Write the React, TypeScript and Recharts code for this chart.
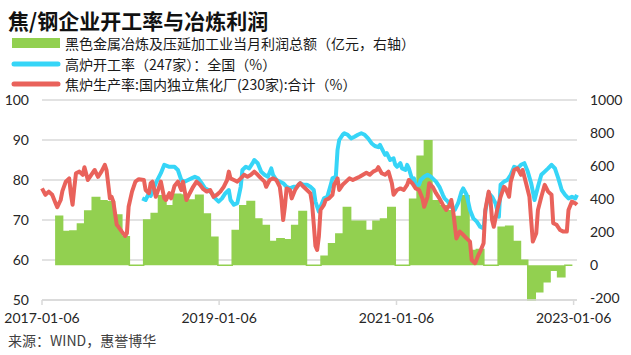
import { ComposedChart, Line, Area, XAxis, YAxis, CartesianGrid } from "recharts";

const DAY = 86400000;
const START = Date.parse("2017-01-06");
const LAST_WEEK = 315;

const xTickLabels = ["2017-01-06", "2019-01-06", "2021-01-06", "2023-01-06"];
const leftTicks = [50, 60, 70, 80, 90, 100];
const rightTicks = [-200, 0, 200, 400, 600, 800, 1000];

// 焦炉生产率:国内独立焦化厂(230家):合计（%）, [weeks since 2017-01-06, value]
const cokeRate: [number, number][] = [
  [0, 77.9], [2, 76.3], [4, 77.1], [6, 76.3], [8, 74.2], [9, 73.2], [11, 75], [12, 77.2], [14, 79.6],
  [16, 80.4], [17, 76.5], [18, 73.8], [19, 78], [20, 81.7], [22, 82.1], [24, 81.3], [25, 83.2], [27, 80],
  [29, 81.3], [31, 82.5], [33, 80.8], [35, 82.1], [37, 83.8], [38, 82.5], [40, 75.4], [41, 75.8], [42, 74.6],
  [44, 68.8], [45, 68.3], [47, 67.1], [49, 66], [50, 66.7], [51, 73.3], [53, 77.1], [55, 79.6], [57, 80.2],
  [60, 80], [61, 77.5], [63, 76.7], [64, 79.2], [65, 79.6], [67, 75.8], [69, 78.3], [70, 79.6], [72, 75.4],
  [73, 75], [75, 76.7], [76, 75.4], [78, 78.5], [80, 79.6], [82, 77.5], [83, 79.6], [85, 75], [87, 76.7],
  [89, 78.3], [91, 79.6], [93, 78.8], [95, 77.7], [97, 77.1], [99, 77.5], [101, 75.8], [103, 76.3], [105, 77.1],
  [107, 78.3], [109, 80], [110, 82.1], [111, 80.4], [113, 80], [115, 79.6], [117, 80.4], [119, 81.3], [121, 80.8],
  [123, 81.3], [125, 82.1], [127, 81.3], [129, 80.4], [131, 79.6], [132, 78.3], [134, 80], [136, 80.4], [138, 80],
  [140, 78.3], [141, 75], [142, 70], [143, 73.3], [144, 77.9], [146, 77.5], [147, 75.4], [149, 77.5], [151, 78.8],
  [152, 79.2], [154, 78.3], [156, 77.5], [158, 76.7], [159, 74.2], [160, 69], [161, 63.5], [162, 62.5], [163, 65.8],
  [164, 72.5], [166, 73.8], [167, 75], [169, 75.4], [171, 76.3], [172, 78.8], [174, 80.4], [175, 77.5], [177, 78.8],
  [179, 79.6], [181, 80.4], [183, 80], [185, 80.4], [187, 80.8], [189, 81.3], [191, 81.8], [193, 81.3], [195, 82.1],
  [197, 82.5], [198, 83.2], [200, 81.7], [202, 81.3], [204, 82.1], [206, 79.2], [207, 76.3], [209, 77.5], [211, 77.9],
  [213, 77.5], [215, 78.8], [216, 80], [218, 79.2], [220, 77.9], [222, 77.5], [224, 75.4], [225, 73.3], [227, 75.8],
  [228, 79.2], [230, 78.3], [232, 76.7], [234, 75.4], [236, 73.8], [238, 72.5], [240, 73.8], [241, 75], [242, 72.5],
  [244, 65.4], [246, 67.1], [248, 66.3], [250, 65.4], [252, 64.6], [253, 60], [255, 59.2], [257, 61.3], [258, 62.1],
  [260, 64.2], [261, 72.5], [263, 77.1], [264, 75.4], [265, 70], [266, 68.3], [268, 72.5], [270, 75.8], [272, 78.3],
  [273, 77.9], [275, 75.8], [276, 79.6], [278, 82.5], [280, 82.9], [282, 81.3], [283, 82.5], [285, 79.2], [287, 75.8],
  [288, 70], [289, 64.6], [291, 66.7], [292, 72.5], [294, 75.8], [296, 78.8], [298, 77.1], [300, 76.3], [301, 69.2],
  [303, 68.8], [305, 67.5], [307, 67.1], [309, 67.1], [310, 72.5], [312, 74.6], [314, 74.2], [315, 73.8],
];

// 高炉开工率（247家）：全国（%）
const blastRate: [number, number][] = [
  [59, 75.4], [61, 75], [63, 76.7], [64, 76], [67, 79.2], [70, 81.7], [72, 83.8], [75, 83.3], [78, 83.3],
  [80, 82.5], [82, 80], [84, 79.6], [86, 80], [88, 80.4], [90, 80.8], [92, 80.4], [94, 79.2], [96, 77.9],
  [98, 77.5], [100, 76.7], [102, 75.4], [104, 74.6], [106, 75.4], [108, 76.7], [110, 77.5], [111, 75], [113, 73.8],
  [115, 74.2], [117, 78.3], [118, 82.5], [120, 83.3], [122, 82.9], [124, 84.2], [125, 85], [127, 84.2], [129, 82.1],
  [131, 81.3], [133, 80.8], [135, 82.9], [136, 81.3], [138, 80], [140, 79.6], [142, 79.2], [144, 78.3], [146, 77.9],
  [148, 78.3], [150, 78.3], [152, 79.2], [154, 78.8], [156, 78.8], [158, 78.3], [160, 77.5], [161, 74.6], [163, 72.1],
  [164, 73.3], [166, 75.4], [168, 75.8], [170, 78.8], [171, 80.4], [173, 80.8], [174, 87.5], [175, 90], [177, 91.3],
  [178, 91.7], [180, 91.3], [182, 90.4], [184, 90.8], [186, 91.3], [188, 91.7], [190, 91.3], [192, 90.4], [194, 89.2],
  [196, 88.5], [198, 88.2], [199, 88.8], [201, 87.1], [202, 86.3], [203, 86.7], [205, 85], [207, 85.4], [208, 83.8],
  [209, 83.3], [211, 84.2], [212, 82.9], [214, 82.5], [215, 83.8], [216, 82.9], [218, 80], [219, 80.4], [220, 78.8],
  [222, 78.8], [223, 80], [225, 80.8], [227, 81.3], [229, 80.8], [230, 80.4], [232, 79.6], [234, 78.3], [236, 76.3],
  [237, 75.4], [239, 74.6], [241, 73.3], [243, 72.5], [245, 74.2], [247, 77.1], [248, 77.9], [250, 76.3], [252, 72.5],
  [254, 70.4], [256, 69.6], [258, 68.3], [260, 67.9], [261, 72.1], [263, 76.7], [265, 75.8], [267, 74.2], [269, 70.8],
  [270, 78.8], [272, 79.6], [274, 80], [276, 81.3], [278, 83.3], [280, 82.9], [282, 83.8], [284, 84.2], [286, 82.1],
  [288, 79.2], [290, 75], [292, 78.3], [294, 81.3], [296, 82.1], [298, 82.9], [300, 83.8], [302, 82.9], [304, 80.4],
  [306, 77.5], [308, 76.3], [310, 75.4], [312, 75.8], [314, 75.4], [315, 76.3],
];

// 黑色金属冶炼及压延加工业当月利润总额（亿元）, monthly
const profit: [string, number][] = [
  ["2017-03", 296], ["2017-04", 205], ["2017-05", 208], ["2017-06", 250], ["2017-07", 328], ["2017-08", 410],
  ["2017-09", 390], ["2017-10", 385], ["2017-11", 305], ["2017-12", 172],
  ["2018-01", 0], ["2018-02", 0], ["2018-03", 274], ["2018-04", 314], ["2018-05", 420], ["2018-06", 360],
  ["2018-07", 430], ["2018-08", 425], ["2018-09", 395], ["2018-10", 424], ["2018-11", 310], ["2018-12", 170],
  ["2019-01", 0], ["2019-02", 0], ["2019-03", 210], ["2019-04", 360], ["2019-05", 386], ["2019-06", 280],
  ["2019-07", 240], ["2019-08", 144], ["2019-09", 160], ["2019-10", 155], ["2019-11", 240], ["2019-12", 326],
  ["2020-01", 0], ["2020-02", 0], ["2020-03", 54], ["2020-04", 130], ["2020-05", 190], ["2020-06", 350],
  ["2020-07", 266], ["2020-08", 266], ["2020-09", 210], ["2020-10", 266], ["2020-11", 280], ["2020-12", 350],
  ["2021-01", 0], ["2021-02", 0], ["2021-03", 400], ["2021-04", 660], ["2021-05", 754], ["2021-06", 390],
  ["2021-07", 360], ["2021-08", 330], ["2021-09", 295], ["2021-10", 420], ["2021-11", 90], ["2021-12", 95],
  ["2022-01", 0], ["2022-02", 0], ["2022-03", 230], ["2022-04", 236], ["2022-05", 144], ["2022-06", 30],
  ["2022-07", -210], ["2022-08", -160], ["2022-09", -100], ["2022-10", -30], ["2022-11", -70], ["2022-12", 0],
  ["2023-01", 0],
];

const weekToTs = (w: number) => START + w * 7 * DAY;
const cokeData = cokeRate.map(([w, v]) => ({ t: weekToTs(w), v }));
const blastData = blastRate.map(([w, v]) => ({ t: weekToTs(w), v }));
const profitData = profit.map(([m, v]) => ({ t: Date.parse(m + "-01"), v }));
const xTicks = xTickLabels.map((d) => Date.parse(d));

const GREEN = "#92d050";
const CYAN = "#36d5f7";
const RED = "#e9625b";
const GRID = "#d9d9d9";
const CJK = '"Noto Sans CJK SC", "Noto Sans", sans-serif';
const tickStyle = { fontSize: 14, fill: "#262626", fontFamily: "Lato, sans-serif" };

const legendItems = [
  { label: "黑色金属冶炼及压延加工业当月利润总额（亿元，右轴）", color: GREEN, kind: "bar" },
  { label: "高炉开工率（247家）：全国（%）", color: CYAN, kind: "line" },
  { label: "焦炉生产率:国内独立焦化厂(230家):合计（%）", color: RED, kind: "line" },
];

export default function App() {
  return (
    <div style={{ position: "absolute", left: 0, top: 0, width: 631, height: 355, background: "#fff" }}>
      <div
        style={{
          position: "absolute", left: 8, top: 5, fontFamily: CJK, fontWeight: 700,
          fontSize: 21, color: "#111", lineHeight: "30px", whiteSpace: "nowrap",
        }}
      >
        焦/钢企业开工率与冶炼利润
      </div>
      {legendItems.map((item, i) => (
        <div
          key={item.label}
          style={{
            position: "absolute", left: 11, top: 33 + i * 20.4, height: 20.4,
            display: "flex", alignItems: "center", fontFamily: CJK, fontSize: 14, color: "#1a1a1a",
            whiteSpace: "nowrap",
          }}
        >
          <svg width={50} height={16} style={{ marginRight: 4, display: "block" }}>
            {item.kind === "bar" ? (
              <rect x={1} y={3} width={48} height={10} fill={item.color} />
            ) : (
              <line x1={3} y1={8} x2={47} y2={8} stroke={item.color} strokeWidth={5} strokeLinecap="round" />
            )}
          </svg>
          <span style={{ lineHeight: "20px" }}>{item.label}</span>
        </div>
      ))}
      <ComposedChart width={631} height={355} margin={{ top: 100, right: 0, bottom: 0, left: 0 }}>
        <CartesianGrid vertical={false} yAxisId="left" stroke={GRID} strokeWidth={1.5} />
        <XAxis
          dataKey="t"
          type="number"
          domain={[START, weekToTs(LAST_WEEK)]}
          ticks={xTicks}
          interval={0}
          tickFormatter={(v: number) => xTickLabels[xTicks.indexOf(v)] ?? ""}
          height={55}
          axisLine={{ stroke: GRID, strokeWidth: 1.5 }}
          tickLine={{ stroke: GRID, strokeWidth: 1.5 }}
          tickSize={5}
          tickMargin={8}
          tick={tickStyle}
        />
        <YAxis
          yAxisId="left"
          domain={[50, 100]}
          ticks={leftTicks}
          interval={0}
          width={42}
          axisLine={false}
          tickLine={false}
          tickSize={0}
          tickMargin={13}
          tick={tickStyle}
        />
        <YAxis
          yAxisId="right"
          orientation="right"
          domain={[-200, 1000]}
          ticks={rightTicks}
          interval={0}
          width={54}
          axisLine={false}
          tickLine={false}
          tickSize={0}
          tickMargin={13}
          tick={tickStyle}
        />
        <Area
          yAxisId="right"
          data={profitData}
          dataKey="v"
          type="stepAfter"
          fill={GREEN}
          fillOpacity={1}
          stroke={GREEN}
          strokeWidth={1.5}
          isAnimationActive={false}
        />
        <Line
          yAxisId="left"
          data={blastData}
          dataKey="v"
          type="linear"
          stroke={CYAN}
          strokeWidth={4}
          strokeLinejoin="round"
          dot={false}
          isAnimationActive={false}
        />
        <Line
          yAxisId="left"
          data={cokeData}
          dataKey="v"
          type="linear"
          stroke={RED}
          strokeWidth={4}
          strokeLinejoin="round"
          dot={false}
          isAnimationActive={false}
        />
      </ComposedChart>
      <div
        style={{
          position: "absolute", left: 8, top: 331, fontFamily: CJK, fontSize: 14,
          color: "#404040", whiteSpace: "nowrap", lineHeight: "18px",
        }}
      >
        来源：WIND，惠誉博华
      </div>
    </div>
  );
}
